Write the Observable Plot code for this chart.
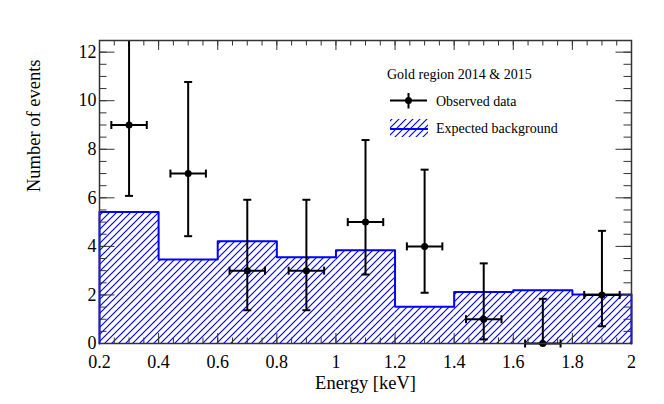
<!DOCTYPE html>
<html><head><meta charset="utf-8">
<script src="https://cdn.jsdelivr.net/npm/d3@7"></script>
<script src="https://cdn.jsdelivr.net/npm/@observablehq/plot@0.6"></script>
<style>
body{margin:0;background:#fff}
#chart{width:664px;height:404px}
#chart svg, #chart svg text{font-family:"Liberation Serif","DejaVu Serif",serif !important;}
</style>
</head><body><div id="chart"></div>
<script>
// ---- data ----
const binEdges   = [0.2, 0.4, 0.6, 0.8, 1.0, 1.2, 1.4, 1.6, 1.8, 2.0];
const background = [5.42, 3.46, 4.21, 3.55, 3.84, 1.51, 2.12, 2.19, 2.02];
const energy     = [0.3, 0.5, 0.7, 0.9, 1.1, 1.3, 1.5, 1.7, 1.9];
const observed   = [9, 7, 3, 3, 5, 4, 1, 0, 2];
const obsLow     = [6.08, 4.42, 1.37, 1.37, 2.84, 2.09, 0.17, 0, 0.71];
const obsHigh    = [13.1, 10.77, 5.92, 5.92, 8.38, 7.16, 3.30, 1.84, 4.64];
const energyHalfWidth = 0.06;
const xTickLabels = [0.2, 0.4, 0.6, 0.8, 1, 1.2, 1.4, 1.6, 1.8, 2];
const yTickLabels = [0, 2, 4, 6, 8, 10, 12];
const xMinorStep = 0.05, yMinorStep = 0.5;
const yMax = 12.48;

// ---- derived tables ----
const bins = background.map((v, i) => ({x1: binEdges[i], x2: binEdges[i + 1], y: v}));
const outline = [{x: binEdges[0], y: 0}];
bins.forEach(b => { outline.push({x: b.x1, y: b.y}); outline.push({x: b.x2, y: b.y}); });
outline.push({x: binEdges[binEdges.length - 1], y: 0});
const pts = energy.map((x, i) => ({x, y: observed[i], lo: obsLow[i], hi: obsHigh[i],
  xl: x - energyHalfWidth, xh: x + energyHalfWidth}));
const capsV = pts.flatMap(p => [{x: p.x, y: p.lo}, {x: p.x, y: p.hi}]).filter(c => c.y <= yMax);
const capsH = pts.flatMap(p => [{x: p.xl, y: p.y}, {x: p.xh, y: p.y}]);
const xMinor = d3.range(0, Math.round((2.0 - 0.2) / xMinorStep) + 1).map(i => +(0.2 + i * xMinorStep).toFixed(3));
const yMinor = d3.range(0, Math.floor(yMax / yMinorStep) + 1).map(i => i * yMinorStep);

// custom symbols for error-bar end caps
const hCap = {draw(ctx, size){ const r = Math.sqrt(size / Math.PI); ctx.moveTo(-r, 0); ctx.lineTo(r, 0); }};
const vCap = {draw(ctx, size){ const r = Math.sqrt(size / Math.PI); ctx.moveTo(0, -r); ctx.lineTo(0, r); }};

const W = 664, H = 404, mL = 99, mR = 33, mT = 40, mB = 61;
const innerW = W - mL - mR, innerH = H - mT - mB;
const font = "'Liberation Serif', 'DejaVu Serif', serif";

const plot = Plot.plot({
  width: W, height: H,
  marginLeft: mL, marginRight: mR, marginTop: mT, marginBottom: mB,
  style: {fontFamily: font, background: "#fff", color: "#000"},
  x: {domain: [0.2, 2.0]},
  y: {domain: [0, yMax]},
  marks: [
    Plot.rect(bins, {x1: "x1", x2: "x2", y1: 0, y2: "y", fill: "url(#hatchBg)"}),
    Plot.line(outline, {x: "x", y: "y", stroke: "#0000ff", strokeWidth: 2}),
    // ticks (inside)
    Plot.tickY(yMinor, {y: d => d, insetRight: innerW - 7.5, stroke: "#333"}),
    Plot.tickY(yTickLabels, {y: d => d, insetRight: innerW - 15.5, stroke: "#333"}),
    Plot.tickY(yMinor, {y: d => d, insetLeft: innerW - 7.5, stroke: "#333"}),
    Plot.tickY(yTickLabels, {y: d => d, insetLeft: innerW - 15.5, stroke: "#333"}),
    Plot.tickX(xMinor, {x: d => d, insetTop: innerH - 5.5, stroke: "#333"}),
    Plot.tickX(xTickLabels, {x: d => d, insetTop: innerH - 10, stroke: "#333"}),
    Plot.tickX(xMinor, {x: d => d, insetBottom: innerH - 5.5, stroke: "#333"}),
    Plot.tickX(xTickLabels, {x: d => d, insetBottom: innerH - 10, stroke: "#333"}),
    Plot.axisX({ticks: xTickLabels, tickSize: 0, tickPadding: 11.5, fontSize: 18, label: null, tickFormat: d => String(d)}),
    Plot.axisY({ticks: yTickLabels, tickSize: 0, tickPadding: 3, fontSize: 18, label: null}),
    Plot.text(["Energy [keV]"], {text: d => d, frameAnchor: "bottom", dy: 45, fontSize: 18.5}),
    Plot.text(["Number of events"], {text: d => d, frameAnchor: "left", dx: -65, rotate: -90, fontSize: 18.5}),
    // observed data
    Plot.ruleX(pts, {x: "x", y1: "lo", y2: "hi", stroke: "#000", strokeWidth: 2, clip: true}),
    Plot.ruleY(pts, {y: "y", x1: "xl", x2: "xh", stroke: "#000", strokeWidth: 2}),
    Plot.dot(capsV, {x: "x", y: "y", r: 4, symbol: hCap, stroke: "#000", strokeWidth: 2, fill: "none"}),
    Plot.dot(capsH, {x: "x", y: "y", r: 4, symbol: vCap, stroke: "#000", strokeWidth: 2, fill: "none"}),
    Plot.dot(pts, {x: "x", y: "y", r: 3.5, fill: "#000", stroke: "none"}),
    Plot.frame({stroke: "#333", strokeWidth: 1.5})
  ]
});

const svg = d3.select(plot);
svg.insert("defs", ":first-child").html(
  '<pattern id="hatchBg" patternUnits="userSpaceOnUse" width="7" height="7">' +
  '<path d="M0,7 L7,0 M-1,1 L1,-1 M6,8 L8,6" stroke="#0000ff" stroke-width="1.15" fill="none"/></pattern>');

// legend
const lg = svg.append("g").attr("font-size", 14).attr("fill", "#000").attr("text-anchor", "start");
lg.append("text").attr("x", 387).attr("y", 78.5).text("Gold region 2014 & 2015");
lg.append("line").attr("x1", 390).attr("x2", 427).attr("y1", 100.5).attr("y2", 100.5).attr("stroke", "#000").attr("stroke-width", 2);
lg.append("line").attr("x1", 408.5).attr("x2", 408.5).attr("y1", 93).attr("y2", 108.5).attr("stroke", "#000").attr("stroke-width", 2);
lg.append("circle").attr("cx", 408.5).attr("cy", 100.5).attr("r", 3.5).attr("fill", "#000");
lg.append("text").attr("x", 436).attr("y", 105.5).text("Observed data");
lg.append("rect").attr("x", 390).attr("y", 119).attr("width", 38).attr("height", 18).attr("fill", "url(#hatchBg)");
lg.append("line").attr("x1", 390).attr("x2", 428).attr("y1", 129).attr("y2", 129).attr("stroke", "#0000ff").attr("stroke-width", 2);
lg.append("text").attr("x", 436).attr("y", 133.3).text("Expected background");

document.getElementById("chart").appendChild(plot);
</script>
</body></html>
